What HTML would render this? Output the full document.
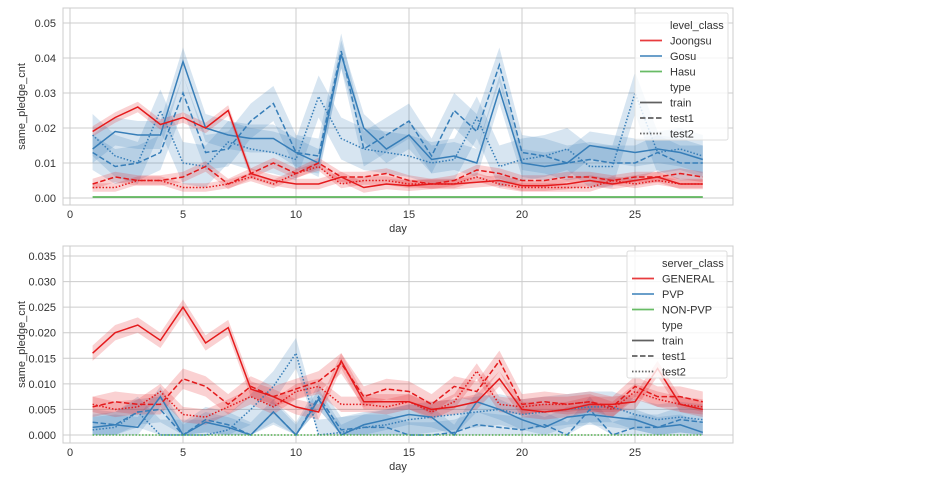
<!DOCTYPE html>
<html><head><meta charset="utf-8"><style>
body{margin:0;background:#fff;}
svg{display:block;font-family:"Liberation Sans",sans-serif;}
</style></head><body>
<svg id="chart" width="952" height="489"></svg>
<script>
const days=[1,2,3,4,5,6,7,8,9,10,11,12,13,14,15,16,17,18,19,20,21,22,23,24,25,26,27,28];
const topTicksY=[0,0.01,0.02,0.03,0.04,0.05];
const topTickLabels=["0.00","0.01","0.02","0.03","0.04","0.05"];
const botTicksY=[0,0.005,0.01,0.015,0.02,0.025,0.03,0.035];
const botTickLabels=["0.000","0.005","0.010","0.015","0.020","0.025","0.030","0.035"];
const xTicks=[0,5,10,15,20,25];
const joongsuTrain=[0.019,0.023,0.026,0.021,0.023,0.020,0.025,0.007,0.005,0.004,0.004,0.006,0.003,0.004,0.0035,0.004,0.004,0.0045,0.005,0.0035,0.0035,0.004,0.005,0.004,0.005,0.006,0.004,0.004];
const joongsuTest1=[0.004,0.006,0.005,0.005,0.006,0.009,0.004,0.007,0.010,0.007,0.010,0.006,0.006,0.007,0.005,0.004,0.005,0.008,0.007,0.005,0.005,0.006,0.006,0.005,0.006,0.006,0.007,0.006];
const joongsuTest2=[0.003,0.003,0.005,0.005,0.003,0.003,0.004,0.006,0.004,0.007,0.009,0.004,0.005,0.005,0.004,0.004,0.004,0.006,0.004,0.003,0.003,0.003,0.003,0.005,0.004,0.005,0.004,0.004];
const gosuTrain=[0.014,0.019,0.018,0.018,0.039,0.020,0.018,0.017,0.017,0.013,0.010,0.041,0.020,0.014,0.018,0.011,0.012,0.010,0.031,0.010,0.009,0.010,0.015,0.014,0.013,0.014,0.013,0.011];
const gosuTest1=[0.013,0.009,0.010,0.013,0.030,0.013,0.014,0.022,0.027,0.013,0.012,0.042,0.014,0.018,0.022,0.012,0.025,0.019,0.038,0.013,0.012,0.010,0.011,0.010,0.010,0.013,0.010,0.010];
const gosuTest2=[0.018,0.012,0.010,0.025,0.010,0.009,0.016,0.014,0.013,0.011,0.029,0.017,0.014,0.013,0.012,0.010,0.011,0.023,0.009,0.011,0.012,0.014,0.009,0.009,0.030,0.013,0.014,0.012];
const hasu=[0.0003,0.0003,0.0003,0.0003,0.0003,0.0003,0.0003,0.0003,0.0003,0.0003,0.0003,0.0003,0.0003,0.0003,0.0003,0.0003,0.0003,0.0003,0.0003,0.0003,0.0003,0.0003,0.0003,0.0003,0.0003,0.0003,0.0003,0.0003];
const generalTrain=[0.016,0.020,0.0215,0.0185,0.025,0.018,0.021,0.009,0.0075,0.0055,0.0045,0.0145,0.0065,0.0065,0.0065,0.005,0.0055,0.0065,0.011,0.005,0.0045,0.005,0.006,0.006,0.0065,0.013,0.006,0.005];
const generalTest1=[0.0055,0.0065,0.006,0.006,0.011,0.0095,0.006,0.0095,0.0075,0.009,0.0105,0.014,0.0075,0.009,0.0085,0.006,0.0095,0.0085,0.0145,0.006,0.0065,0.006,0.0065,0.0055,0.0095,0.0075,0.0075,0.0065];
const generalTest2=[0.006,0.005,0.0055,0.0085,0.004,0.0035,0.0055,0.0075,0.0055,0.0085,0.0095,0.006,0.006,0.0055,0.0065,0.0045,0.0065,0.0125,0.006,0.0055,0.006,0.006,0.0065,0.005,0.0085,0.007,0.006,0.0055];
const pvpTrain=[0.0015,0.002,0.0015,0.0075,0,0.0025,0.0015,0,0.0045,0,0.007,0,0.002,0.003,0.004,0.0035,0,0.0065,0.005,0.003,0.0015,0.0035,0.004,0.0035,0.003,0.0015,0.002,0.0005];
const pvpTest1=[0.0025,0.002,0.0045,0.005,0,0.003,0.002,0,0.0045,0,0.0075,0.001,0.0015,0.0015,0,0,0.0005,0.002,0.0015,0.001,0.002,0,0.005,0,0.0015,0.0015,0.003,0.0025];
const pvpTest2=[0.001,0.0015,0.0045,0,0,0,0.001,0.005,0.0095,0.016,0,0.0005,0.0015,0.002,0.003,0.0035,0.004,0.0045,0.005,0.004,0.0045,0.005,0.0055,0.0055,0.004,0.003,0.0035,0.003];
const nonPvp=[0,0,0,0,0,0,0,0,0,0,0,0,0,0,0,0,0,0,0,0,0,0,0,0,0,0,0,0];

const NS="http://www.w3.org/2000/svg";
const svg=document.getElementById('chart');
function mk(tag,attrs,parent){const e=document.createElementNS(NS,tag);for(const k in attrs)e.setAttribute(k,attrs[k]);(parent||svg).appendChild(e);return e;}
const RED="#e41a1c",BLUE="#377eb8",GREEN="#4daf4a";
const DASH={train:"",test1:"5.5,2.5",test2:"1.5,1.8"};

function panel(cfg){
  const g=mk('g',{});
  
  
  const L=63,R=733,T=cfg.top,B=cfg.bottom;
  const xs=d=>70+d*22.6;
  const ys=v=>cfg.y0-v*cfg.k;
  mk('rect',{x:L,y:T,width:R-L,height:B-T,fill:'#fff',stroke:'#ccc','stroke-width':1},g);
  xTicks.forEach(t=>{
    const gl=mk('line',{x1:xs(t),x2:xs(t),y1:T,y2:B,stroke:'#ccc','stroke-width':1},g);
    
    
    const tx=mk('text',{x:xs(t),y:B+13,'text-anchor':'middle','font-size':11,fill:'#333'},g);
    tx.textContent=t;
    
    
  });
  cfg.ticks.forEach((t,i)=>{
    const gl=mk('line',{x1:L,x2:R,y1:ys(t),y2:ys(t),stroke:'#ccc','stroke-width':1},g);
    
    
    const tx=mk('text',{x:56,y:ys(t)+4,'text-anchor':'end','font-size':11,fill:'#333'},g);
    tx.textContent=cfg.labels[i];
    
    
  });
  const xl=mk('text',{x:398,y:B+27,'text-anchor':'middle','font-size':11,fill:'#333'},g);
  xl.textContent='day';
  
  
  const cy=(T+B)/2;
  const yl=mk('text',{x:25,y:cy,'text-anchor':'middle','font-size':11,fill:'#333',transform:`rotate(-90 25 ${cy})`},g);
  yl.textContent='same_pledge_cnt';
  
  
  cfg.series.forEach(s=>{
    const up=s.vals.map((v,i)=>[xs(days[i]),ys(v+s.ci)]);
    const lo=s.vals.map((v,i)=>[xs(days[i]),ys(Math.max(0,v-s.ci))]).reverse();
    const band=mk('path',{d:'M'+up.concat(lo).map(p=>p.join(',')).join('L')+'Z',fill:s.color,'fill-opacity':0.2,stroke:'none'},g);
    
    
  });
  cfg.series.forEach(s=>{
    const pts=s.vals.map((v,i)=>xs(days[i])+','+ys(v)).join(' ');
    const ln=mk('polyline',{points:pts,fill:'none',stroke:s.color,'stroke-width':1.5,'stroke-dasharray':DASH[s.type]},g);
    
    
  });
  // legend
  const lg=mk('g',{},g);
  
  
  const lx=cfg.legX,ly=cfg.legY;
  mk('rect',{x:lx,y:ly,width:cfg.legW,height:127,fill:'#fff','fill-opacity':0.8,stroke:'#ddd',rx:2},lg);
  const items=[[cfg.legTitle,null,''],[cfg.cls[0],RED,''],[cfg.cls[1],BLUE,''],[cfg.cls[2],GREEN,''],['type',null,''],['train','#444',''],['test1','#444',DASH.test1],['test2','#444',DASH.test2]];
  items.forEach((it,i)=>{
    const yy=ly+12+i*15.5;
    if(it[1]){
      const sw=mk('line',{x1:lx+5,x2:lx+27,y1:yy,y2:yy,stroke:it[1],'stroke-width':1.8,'stroke-opacity':0.85,'stroke-dasharray':it[2]},lg);
      
      
    }
    const t=mk('text',{x:lx+35,y:yy+4,'font-size':11,fill:'#333'},lg);
    t.textContent=it[0];
    
    
  });
}
panel({name:'level-class-panel',top:8,bottom:205,y0:198,k:3500,ticks:topTicksY,labels:topTickLabels,
  legX:635,legY:13,legW:93,legTitle:'level_class',cls:['Joongsu','Gosu','Hasu'],
  series:[
    {name:'gosu-train',vals:gosuTrain,color:BLUE,type:'train',ci:0.004},
    {name:'gosu-test1',vals:gosuTest1,color:BLUE,type:'test1',ci:0.005},
    {name:'gosu-test2',vals:gosuTest2,color:BLUE,type:'test2',ci:0.006},
    {name:'joongsu-train',vals:joongsuTrain,color:RED,type:'train',ci:0.0015},
    {name:'joongsu-test1',vals:joongsuTest1,color:RED,type:'test1',ci:0.0015},
    {name:'joongsu-test2',vals:joongsuTest2,color:RED,type:'test2',ci:0.0012},
    {name:'hasu',vals:hasu,color:GREEN,type:'train',ci:0.0002}
  ]});
panel({name:'server-class-panel',top:246,bottom:443,y0:435,k:5114,ticks:botTicksY,labels:botTickLabels,
  legX:627,legY:251,legW:100,legTitle:'server_class',cls:['GENERAL','PVP','NON-PVP'],
  series:[
    {name:'pvp-train',vals:pvpTrain,color:BLUE,type:'train',ci:0.002},
    {name:'pvp-test1',vals:pvpTest1,color:BLUE,type:'test1',ci:0.0025},
    {name:'pvp-test2',vals:pvpTest2,color:BLUE,type:'test2',ci:0.003},
    {name:'general-train',vals:generalTrain,color:RED,type:'train',ci:0.0015},
    {name:'general-test1',vals:generalTest1,color:RED,type:'test1',ci:0.002},
    {name:'general-test2',vals:generalTest2,color:RED,type:'test2',ci:0.0015},
    {name:'non-pvp',vals:nonPvp,color:GREEN,type:'test2',ci:0}
  ]});
</script>
</body></html>
